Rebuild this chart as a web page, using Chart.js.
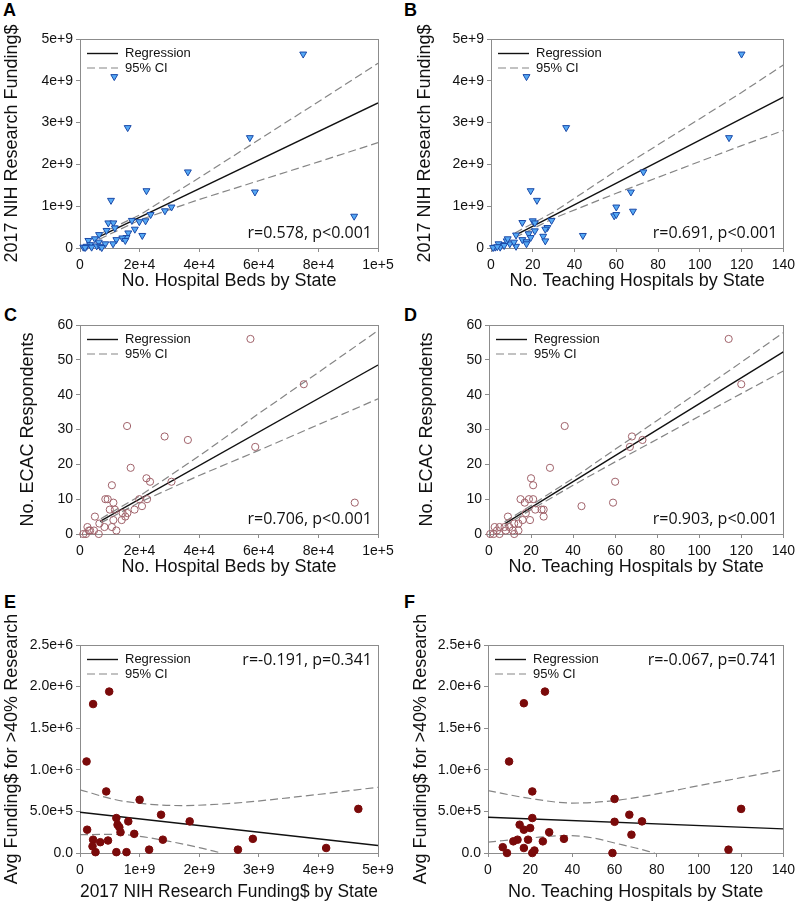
<!DOCTYPE html>
<html>
<head>
<meta charset="utf-8">
<script src="https://cdn.jsdelivr.net/npm/chart.js@4"></script>
<style>
  body { margin: 0; background: #fff; width: 800px; height: 911px; position: relative; overflow: hidden; }
  canvas { position: absolute; }
  .tag { position: absolute; font: bold 18px "Liberation Sans", Arial, sans-serif; color: #000; }
</style>
</head>
<body>
<div class="tag" style="left:3px;top:0px">A</div>
<div class="tag" style="left:404px;top:0px">B</div>
<div class="tag" style="left:4px;top:305px">C</div>
<div class="tag" style="left:404px;top:305px">D</div>
<div class="tag" style="left:4px;top:592px">E</div>
<div class="tag" style="left:404px;top:592px">F</div>

<canvas id="chartA" width="400" height="300" style="left:0;top:0"></canvas>
<canvas id="chartB" width="400" height="300" style="left:400px;top:0"></canvas>
<canvas id="chartC" width="400" height="290" style="left:0;top:300px"></canvas>
<canvas id="chartD" width="400" height="290" style="left:400px;top:300px"></canvas>
<canvas id="chartE" width="400" height="321" style="left:0;top:590px"></canvas>
<canvas id="chartF" width="400" height="321" style="left:400px;top:590px"></canvas>

<script>
// tick labels
const bedTicks = ['0', '2e+4', '4e+4', '6e+4', '8e+4', '1e+5'];
const teachTicks = ['0', '20', '40', '60', '80', '100', '120', '140'];
const fundTicks = ['0', '1e+9', '2e+9', '3e+9', '4e+9', '5e+9'];
const respTicks = ['0', '10', '20', '30', '40', '50', '60'];
const avgTicks = ['0.0', '5.0e+5', '1.0e+6', '1.5e+6', '2.0e+6', '2.5e+6'];

// A: funding vs hospital beds
const aBeds = [74900, 11500, 16000, 57000, 36200, 22300, 58700, 10400, 30700, 28500,
  92000, 23700, 17400, 19900, 22000, 9500, 11200, 11700, 8900, 18400,
  20900, 6400, 16200, 15600, 12200, 14200, 15200, 11100, 5000, 2800,
  3400, 6300, 8500, 1100, 2200, 3900, 5600, 6700, 7300, 1700];
const aFunding = [4.64e9, 4.10e9, 2.88e9, 2.64e9, 1.82e9, 1.37e9, 1.34e9, 1.14e9, 0.98e9, 0.89e9,
  0.76e9, 0.80e9, 0.66e9, 0.63e9, 0.65e9, 0.60e9, 0.60e9, 0.48e9, 0.42e9, 0.45e9,
  0.30e9, 0.32e9, 0.36e9, 0.25e9, 0.20e9, 0.24e9, 0.18e9, 0.10e9, 0.22e9, 0.18e9,
  0.08e9, 0.14e9, 0.10e9, 0.02e9, 0.04e9, 0.02e9, 0.05e9, 0.04e9, 0.01e9, 0.01e9];
const aReg = [[6500, 0.27e9], [1e5, 3.47e9]];
const aUpper = [[6500, 0.33e9], [2e4, 0.79e9], [4e4, 1.68e9], [6e4, 2.59e9], [8e4, 3.50e9], [1e5, 4.42e9]];
const aLower = [[6500, 0.21e9], [2e4, 0.67e9], [4e4, 1.16e9], [6e4, 1.61e9], [8e4, 2.06e9], [1e5, 2.52e9]];

// B: funding vs teaching hospitals
const bTeaching = [120, 114, 17, 36, 73, 19, 22, 67, 60, 68,
  59, 60, 15, 20, 21, 29, 44, 27, 26, 21,
  12, 18, 19, 25, 26, 15, 17, 17, 12, 9,
  7.5, 8, 11, 5, 3.6, 2, 1, 4.4, 6.3, 3];
const bFunding = [4.64e9, 2.64e9, 4.10e9, 2.88e9, 1.82e9, 1.37e9, 1.14e9, 1.34e9, 0.98e9, 0.88e9,
  0.77e9, 0.80e9, 0.61e9, 0.65e9, 0.60e9, 0.66e9, 0.30e9, 0.49e9, 0.45e9, 0.41e9,
  0.31e9, 0.34e9, 0.25e9, 0.28e9, 0.17e9, 0.20e9, 0.15e9, 0.10e9, 0.04e9, 0.10e9,
  0.17e9, 0.22e9, 0.14e9, 0.08e9, 0.10e9, 0.02e9, 0.01e9, 0.02e9, 0.06e9, 0.03e9];
const bReg = [[11.5, 0.30e9], [140, 3.61e9]];
const bUpper = [[11.5, 0.36e9], [30, 0.86e9], [60, 1.85e9], [90, 2.78e9], [120, 3.72e9], [140, 4.38e9]];
const bLower = [[11.5, 0.25e9], [30, 0.71e9], [60, 1.31e9], [90, 1.88e9], [120, 2.45e9], [140, 2.81e9]];

// C: ECAC respondents vs hospital beds
const cBeds = [57200, 75100, 15800, 28400, 36200, 58800, 17000, 22300, 23500, 30700,
  10700, 8500, 9300, 19900, 22500, 11200, 92200, 10000, 11700, 18300,
  20800, 14300, 15900, 15200, 5000, 14000, 11200, 6500, 8200, 10700,
  12200, 2500, 3400, 1100, 2000, 6300, 4700, 3000];
const cResp = [56, 43, 31, 28, 27, 25, 19, 16, 15, 15,
  14, 10, 10, 10, 10, 9, 9, 7, 7, 7,
  8, 6, 6, 5, 5, 4, 4, 3, 2, 2,
  1, 2, 1, 0, 0, 0, 1, 1];
const cReg = [[6700, 3.6], [1e5, 48.5]];
const cUpper = [[7000, 4.4], [2e4, 10.9], [4e4, 22.4], [6e4, 34.6], [8e4, 46.4], [1e5, 58.4]];
const cLower = [[7000, 3.2], [2e4, 9.1], [4e4, 16.8], [6e4, 24.0], [8e4, 31.4], [1e5, 38.8]];

// D: ECAC respondents vs teaching hospitals
const dTeaching = [114, 120, 36, 68, 73, 67, 29, 20, 21, 60,
  44, 59, 15, 19, 21, 17, 9, 22, 25, 26,
  26, 17.5, 16, 19.5, 14, 12, 2.7, 5, 7.4, 9.7,
  8, 11.3, 14, 3.8, 0.6, 2.2, 5, 12];
const dResp = [56, 43, 31, 28, 27, 25, 19, 16, 14, 15,
  8, 9, 10, 10, 10, 9, 5, 7, 7, 7,
  5, 6, 4, 4, 3, 3, 2, 2, 2, 2,
  1, 1, 1, 1, 0, 0, 0, 0];
const dReg = [[7.4, 2.9], [140, 52.3]];
const dUpper = [[7.4, 3.5], [20, 8.2], [40, 16.0], [60, 24.3], [80, 32.6], [100, 41.0], [120, 49.3], [140, 57.8]];
const dLower = [[7.4, 2.3], [20, 7.0], [40, 14.0], [60, 20.7], [80, 27.2], [100, 33.8], [120, 40.3], [140, 46.8]];

// E: avg funding vs NIH funding
const eFunding = [0.49e9, 0.22e9, 0.11e9, 0.44e9, 1.0e9, 4.67e9, 1.36e9, 0.61e9, 0.81e9, 1.84e9,
  0.63e9, 0.66e9, 0.12e9, 0.68e9, 0.91e9, 0.22e9, 0.34e9, 0.47e9, 1.39e9, 2.9e9,
  0.21e9, 1.16e9, 2.65e9, 4.13e9, 0.26e9, 0.61e9, 0.78e9];
const eAvg = [1.94e6, 1.79e6, 1.10e6, 0.74e6, 0.64e6, 0.53e6, 0.46e6, 0.42e6, 0.38e6, 0.38e6,
  0.34e6, 0.31e6, 0.28e6, 0.25e6, 0.23e6, 0.16e6, 0.13e6, 0.15e6, 0.16e6, 0.17e6,
  0.08e6, 0.04e6, 0.04e6, 0.06e6, 0.01e6, 0.01e6, 0.01e6];
const eReg = [[0, 0.49e6], [5e9, 0.09e6]];
const eUpper = [[0, 0.76e6], [0.6e9, 0.64e6], [1.1e9, 0.59e6], [1.7e9, 0.57e6], [2.6e9, 0.60e6], [3.7e9, 0.68e6], [5e9, 0.79e6]];
const eLower = [[0, 0.22e6], [0.6e9, 0.225e6], [1.0e9, 0.20e6], [1.5e9, 0.14e6], [2.0e9, 0.065e6], [2.37e9, 0]];

// F: avg funding vs teaching hospitals
const fTeaching = [27, 17, 10, 21, 60, 120, 114, 67, 60, 73,
  68, 21, 15, 17, 20, 29, 36, 26, 19, 14,
  12, 7, 17, 9, 21, 22, 59];
const fAvg = [1.94e6, 1.80e6, 1.10e6, 0.74e6, 0.65e6, 0.53e6, 0.04e6, 0.46e6, 0.375e6, 0.38e6,
  0.22e6, 0.42e6, 0.34e6, 0.28e6, 0.30e6, 0.25e6, 0.17e6, 0.14e6, 0.16e6, 0.16e6,
  0.14e6, 0.07e6, 0.06e6, 0, 0, 0.03e6, 0];
const fReg = [[0, 0.43e6], [140, 0.29e6]];
const fUpper = [[0, 0.75e6], [20, 0.655e6], [40, 0.60e6], [60, 0.63e6], [80, 0.71e6], [100, 0.81e6], [120, 0.905e6], [140, 1.0e6]];
const fLower = [[0, 0.13e6], [20, 0.18e6], [37, 0.21e6], [50, 0.18e6], [60, 0.12e6], [70, 0.06e6], [79, 0]];

const sans = '"Liberation Sans", Arial, sans-serif';

const triangle = { pointStyle: 'triangle', pointRotation: 180, pointRadius: 4, pointBackgroundColor: '#55a9f5', pointBorderColor: '#1b4aa8', pointBorderWidth: 1 };
const ring = { pointStyle: 'circle', pointRadius: 3.6, pointBackgroundColor: 'rgba(255,255,255,0)', pointBorderColor: '#a0626a', pointBorderWidth: 1 };
const dot = { pointStyle: 'circle', pointRadius: 3.8, pointBackgroundColor: '#7a0a0a', pointBorderColor: '#7a0a0a', pointBorderWidth: 1 };

// grey box round the plot, legend and r/p note inside it
const framePlugin = {
  id: 'frame',
  beforeDatasetsDraw(chart) {
    const { ctx, chartArea: a } = chart;
    ctx.save();
    ctx.strokeStyle = '#8c8c8c';
    ctx.lineWidth = 1;
    ctx.strokeRect(Math.round(a.left) + 0.5, Math.round(a.top) + 0.5, Math.round(a.width), Math.round(a.height));
    ctx.restore();
  },
  afterDraw(chart, args, opts) {
    const { ctx, chartArea: a } = chart;
    const ds = chart.data.datasets;
    ctx.save();
    ctx.font = '13px ' + sans;
    ctx.textBaseline = 'middle';
    [ds[1], ds[2]].forEach((d, i) => {
      const y = a.top + 14.5 + i * 14.5;
      ctx.beginPath();
      ctx.setLineDash(d.borderDash || []);
      ctx.strokeStyle = d.borderColor;
      ctx.lineWidth = d.borderWidth;
      ctx.moveTo(a.left + 7, y);
      ctx.lineTo(a.left + 38, y);
      ctx.stroke();
      ctx.setLineDash([]);
      ctx.fillStyle = '#111';
      ctx.fillText(d.label, a.left + 45, y);
    });
    ctx.font = '16px "Open Sans", sans-serif';
    ctx.textAlign = 'right';
    ctx.fillStyle = '#111';
    ctx.fillText(opts.note, a.right - 6, opts.noteAt === 'top' ? a.top + 15 : a.bottom - 15);
    ctx.restore();
  }
};

function pairs(list) {
  return list.map(p => ({ x: p[0], y: p[1] }));
}

function axis(max, step, labels, title, size, tickPad, titlePad) {
  return {
    type: 'linear',
    min: 0,
    max: max,
    ticks: {
      stepSize: step,
      autoSkip: false,
      maxRotation: 0,
      padding: tickPad,
      color: '#111',
      font: { family: sans, size: 14 },
      callback: (v, i) => labels[i]
    },
    grid: { drawOnChartArea: false, drawTicks: true, tickLength: 4, color: '#8c8c8c' },
    border: { display: false },
    title: { display: true, text: title, color: '#111', font: { family: sans, size: 18 }, padding: titlePad },
    afterFit: s => {
      if (s.isHorizontal()) s.height = size;
      else s.width = size;
    }
  };
}

function makeChart(id, c) {
  const ci = { showLine: true, pointRadius: 0, borderColor: '#858585', borderWidth: 1.2, borderDash: [8, 4], order: 2 };
  if (c.curved) ci.cubicInterpolationMode = 'monotone';
  new Chart(document.getElementById(id), {
    type: 'scatter',
    data: {
      datasets: [
        Object.assign({ label: 'points', data: c.xs.map((x, i) => ({ x: x, y: c.ys[i] })), clip: false, order: 0 }, c.marker),
        { label: 'Regression', data: pairs(c.reg), showLine: true, pointRadius: 0, borderColor: '#111', borderWidth: 1.4, order: 1 },
        Object.assign({ label: '95% CI', data: pairs(c.upper) }, ci),
        Object.assign({ label: '95% CI', data: pairs(c.lower) }, ci)
      ]
    },
    options: {
      responsive: false,
      animation: false,
      layout: { padding: { top: c.top, right: c.right, left: 0, bottom: 0 } },
      plugins: {
        legend: { display: false },
        tooltip: { enabled: false },
        frame: { note: c.note, noteAt: c.noteAt }
      },
      scales: {
        x: axis(c.xMax, c.xStep, c.xTicks, c.xTitle, c.xSize, 5, { top: 0, bottom: c.xTitlePad }),
        y: axis(c.yMax, c.yStep, c.yTicks, c.yTitle, c.ySize, 3, { top: c.yTitlePad, bottom: 0 })
      }
    },
    plugins: [framePlugin]
  });
}

makeChart('chartA', {
  xs: aBeds, ys: aFunding, reg: aReg, upper: aUpper, lower: aLower, marker: triangle,
  xMax: 1e5, xStep: 2e4, xTicks: bedTicks, xTitle: 'No. Hospital Beds by State',
  yMax: 5e9, yStep: 1e9, yTicks: fundTicks, yTitle: '2017 NIH Research Funding$',
  top: 39, right: 22, xSize: 52, ySize: 80, xTitlePad: 8, yTitlePad: 1,
  note: 'r=0.578, p<0.001', noteAt: 'bottom'
});
makeChart('chartB', {
  xs: bTeaching, ys: bFunding, reg: bReg, upper: bUpper, lower: bLower, marker: triangle,
  xMax: 140, xStep: 20, xTicks: teachTicks, xTitle: 'No. Teaching Hospitals by State',
  yMax: 5e9, yStep: 1e9, yTicks: fundTicks, yTitle: '2017 NIH Research Funding$',
  top: 39, right: 12, xSize: 52, ySize: 91, xTitlePad: 8, yTitlePad: 14,
  note: 'r=0.691, p<0.001', noteAt: 'bottom'
});
makeChart('chartC', {
  xs: cBeds, ys: cResp, reg: cReg, upper: cUpper, lower: cLower, marker: ring,
  xMax: 1e5, xStep: 2e4, xTicks: bedTicks, xTitle: 'No. Hospital Beds by State',
  yMax: 60, yStep: 10, yTicks: respTicks, yTitle: 'No. ECAC Respondents',
  top: 25, right: 22, xSize: 56, ySize: 80, xTitlePad: 12, yTitlePad: 17,
  note: 'r=0.706, p<0.001', noteAt: 'bottom'
});
makeChart('chartD', {
  xs: dTeaching, ys: dResp, reg: dReg, upper: dUpper, lower: dLower, marker: ring,
  xMax: 140, xStep: 20, xTicks: teachTicks, xTitle: 'No. Teaching Hospitals by State',
  yMax: 60, yStep: 10, yTicks: respTicks, yTitle: 'No. ECAC Respondents',
  top: 25, right: 12, xSize: 56, ySize: 89, xTitlePad: 12, yTitlePad: 16,
  note: 'r=0.903, p<0.001', noteAt: 'bottom'
});
makeChart('chartE', {
  xs: eFunding, ys: eAvg, reg: eReg, upper: eUpper, lower: eLower, marker: dot, curved: true,
  xMax: 5e9, xStep: 1e9, xTicks: fundTicks, xTitle: '2017 NIH Research Funding$ by State',
  yMax: 2.5e6, yStep: 5e5, yTicks: avgTicks, yTitle: 'Avg Funding$ for >40% Research',
  top: 55, right: 22, xSize: 58, ySize: 80, xTitlePad: 8, yTitlePad: 1,
  note: 'r=-0.191, p=0.341', noteAt: 'top'
});
makeChart('chartF', {
  xs: fTeaching, ys: fAvg, reg: fReg, upper: fUpper, lower: fLower, marker: dot, curved: true,
  xMax: 140, xStep: 20, xTicks: teachTicks, xTitle: 'No. Teaching Hospitals by State',
  yMax: 2.5e6, yStep: 5e5, yTicks: avgTicks, yTitle: 'Avg Funding$ for >40% Research',
  top: 55, right: 12, xSize: 58, ySize: 88, xTitlePad: 8, yTitlePad: 10,
  note: 'r=-0.067, p=0.741', noteAt: 'top'
});
</script>
</body>
</html>
